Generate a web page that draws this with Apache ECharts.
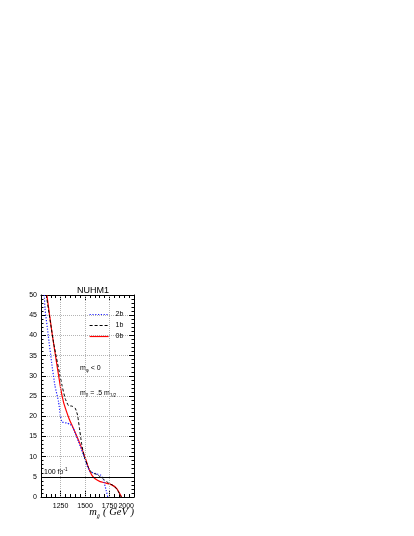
<!DOCTYPE html>
<html>
<head>
<meta charset="utf-8">
<script src="https://cdn.jsdelivr.net/npm/echarts@6/dist/echarts.min.js"></script>
<style>
html, body { margin: 0; padding: 0; background: #fff; }
#chart { width: 414px; height: 536px; }
</style>
</head>
<body>
<div id="chart"></div>
<script>
// gluino mass (GeV) vs. curve value
const mass2b = [1084, 1091, 1124, 1158, 1192, 1229, 1247, 1264, 1315, 1348, 1376, 1399, 1433, 1484, 1518, 1552, 1620, 1661, 1688, 1715, 1732];
const val2b  = [50, 46.6, 40, 33.4, 27.6, 23.6, 20.3, 18.6, 18.3, 18.0, 17.2, 15.8, 13.7, 10.4, 7.9, 6.3, 5.7, 5.4, 4.2, 1.7, 0];

const mass1b = [1104, 1180, 1264, 1297, 1331, 1366, 1399, 1423, 1443, 1457, 1467, 1490, 1535, 1570, 1620, 1654, 1688, 1738, 1790, 1830, 1868];
const val1b  = [50, 38, 27.7, 24.4, 22.6, 22.5, 22.0, 20.3, 17.0, 14.5, 12.9, 10.2, 7.3, 6.0, 5.6, 5.0, 4.4, 3.5, 2.8, 1.8, 0];

const mass0b = [1110, 1166, 1250, 1280, 1310, 1340, 1370, 1417, 1457, 1501, 1535, 1569, 1603, 1654, 1705, 1773, 1824, 1874];
const val0b  = [50, 40, 27, 23.5, 21.2, 19.2, 17.6, 15.0, 12.6, 9.8, 7.2, 5.4, 4.5, 3.8, 3.5, 3.0, 2.1, 0];

const xLabels = [1250, 1500, 1750, 2000];
const xMajor = [1250, 1500, 1750];
const lumiLevel = 5;

const pair = (xs, ys) => xs.map((x, i) => [x, ys[i]]);

const chart = echarts.init(document.getElementById('chart'));

const font = 'Liberation Sans';
const gridStyle = { type: 'dotted', color: '#b4b4b4', width: 1 };

const minorX = (pos) => ({
    type: 'value', min: 1050, max: 2000, interval: 50, position: pos,
    axisLine: { show: false },
    axisTick: { inside: true, length: 3, lineStyle: { color: '#000' } },
    axisLabel: { show: false },
    splitLine: { show: false }
});

const option = {
    animation: false,
    title: {
        text: 'NUHM1',
        left: 88, top: 281, textAlign: 'center',
        textStyle: { fontFamily: font, fontSize: 9, fontWeight: 'normal', color: '#000' }
    },
    legend: {
        data: ['2b', '1b', '0b'],
        orient: 'vertical',
        left: 84, top: 306,
        itemWidth: 19, itemHeight: 8, itemGap: 4,
        itemStyle: { opacity: 0 },
        lineStyle: { width: 1.2 },
        textStyle: { fontFamily: font, fontSize: 7, color: '#000', padding: [0, 0, 0, 2] }
    },
    grid: { left: 41, right: 280, top: 295, bottom: 39, containLabel: false },
    xAxis: [
        {
            type: 'value', min: 1050, max: 2000, position: 'bottom',
            axisLine: { lineStyle: { color: '#000', width: 1 } },
            axisTick: { inside: true, length: 6, customValues: xMajor, lineStyle: { color: '#000' } },
            axisLabel: {
                customValues: xLabels, showMaxLabel: true, alignMaxLabel: 'right',
                formatter: (v) => String(v),
                fontFamily: font, fontSize: 7, color: '#000', margin: 6
            },
            splitLine: { show: false }
        },
        minorX('bottom'),
        {
            type: 'value', min: 1050, max: 2000, position: 'top',
            axisLine: { lineStyle: { color: '#000', width: 1 } },
            axisTick: { inside: true, length: 6, customValues: xMajor, lineStyle: { color: '#000' } },
            axisLabel: { show: false },
            splitLine: { show: false }
        },
        minorX('top')
    ],
    yAxis: [
        {
            type: 'value', min: 0, max: 50, interval: 5, position: 'left',
            axisLine: { show: true, lineStyle: { color: '#000', width: 1 } },
            axisTick: { show: true, inside: true, length: 5, lineStyle: { color: '#000' } },
            minorTick: { show: true, splitNumber: 5, length: 2.5, lineStyle: { color: '#000' } },
            axisLabel: { fontFamily: font, fontSize: 7, color: '#000', margin: 4 },
            splitLine: { show: true, lineStyle: gridStyle }
        },
        {
            type: 'value', min: 0, max: 50, interval: 5, position: 'right',
            axisLine: { show: true, lineStyle: { color: '#000', width: 1 } },
            axisTick: { show: true, inside: true, length: 5, lineStyle: { color: '#000' } },
            minorTick: { show: true, splitNumber: 5, length: 2.5, lineStyle: { color: '#000' } },
            axisLabel: { show: false },
            splitLine: { show: false }
        }
    ],
    series: [
        {
            name: '2b', type: 'line', data: pair(mass2b, val2b),
            symbol: 'none', smooth: 0.15, clip: true,
            lineStyle: { color: '#2222ff', width: 1.2, type: [1.2, 1.6] },
            itemStyle: { color: '#2222ff' },
            z: 3,
            markLine: {
                silent: true, symbol: 'none', animation: false,
                label: { show: false },
                lineStyle: gridStyle,
                data: xMajor.map((v) => ({ xAxis: v }))
            }
        },
        {
            name: '1b', type: 'line', data: pair(mass1b, val1b),
            symbol: 'none', smooth: 0.15, clip: true,
            lineStyle: { color: '#000', width: 1, type: [3, 2] },
            itemStyle: { color: '#000' },
            z: 4
        },
        {
            name: '0b', type: 'line', data: pair(mass0b, val0b),
            symbol: 'none', smooth: 0.15, clip: true,
            lineStyle: { color: '#ff0000', width: 1.2 },
            itemStyle: { color: '#ff0000' },
            z: 2,
            markLine: {
                silent: true, symbol: 'none', animation: false,
                label: { show: false },
                lineStyle: { color: '#000', width: 1, type: 'solid' },
                data: [{ yAxis: lumiLevel }]
            }
        }
    ],
    graphic: [
        {
            type: 'text', left: 80, top: 363,
            style: {
                text: 'm{s|φ} < 0',
                fontFamily: font, fontSize: 7, fill: '#000', lineHeight: 10,
                rich: { s: { fontFamily: font, fontSize: 4.5, lineHeight: 10, verticalAlign: 'bottom' } }
            }
        },
        {
            type: 'text', left: 80, top: 388,
            style: {
                text: 'm{s|0} = .5 m{s|1/2}',
                fontFamily: font, fontSize: 7, fill: '#000', lineHeight: 10,
                rich: { s: { fontFamily: font, fontSize: 4.5, lineHeight: 10, verticalAlign: 'bottom' } }
            }
        },
        {
            type: 'text', left: 44, top: 467,
            style: {
                text: '100 fb{p|-1}',
                fontFamily: font, fontSize: 7, fill: '#000', lineHeight: 10,
                rich: { p: { fontFamily: font, fontSize: 4.5, lineHeight: 10, verticalAlign: 'top' } }
            }
        },
        {
            type: 'text', right: 280, top: 506,
            style: {
                text: '{m|m}{g|g̃} {u|( GeV )}',
                fill: '#000',
                rich: {
                    m: { fontFamily: 'Liberation Serif', fontStyle: 'italic', fontSize: 10.5, lineHeight: 14 },
                    g: { fontFamily: 'Liberation Serif', fontStyle: 'italic', fontSize: 6, lineHeight: 14, verticalAlign: 'bottom' },
                    u: { fontFamily: 'Liberation Serif', fontStyle: 'italic', fontSize: 10.5, lineHeight: 14 }
                }
            }
        }
    ]
};

chart.setOption(option);
</script>
</body>
</html>
